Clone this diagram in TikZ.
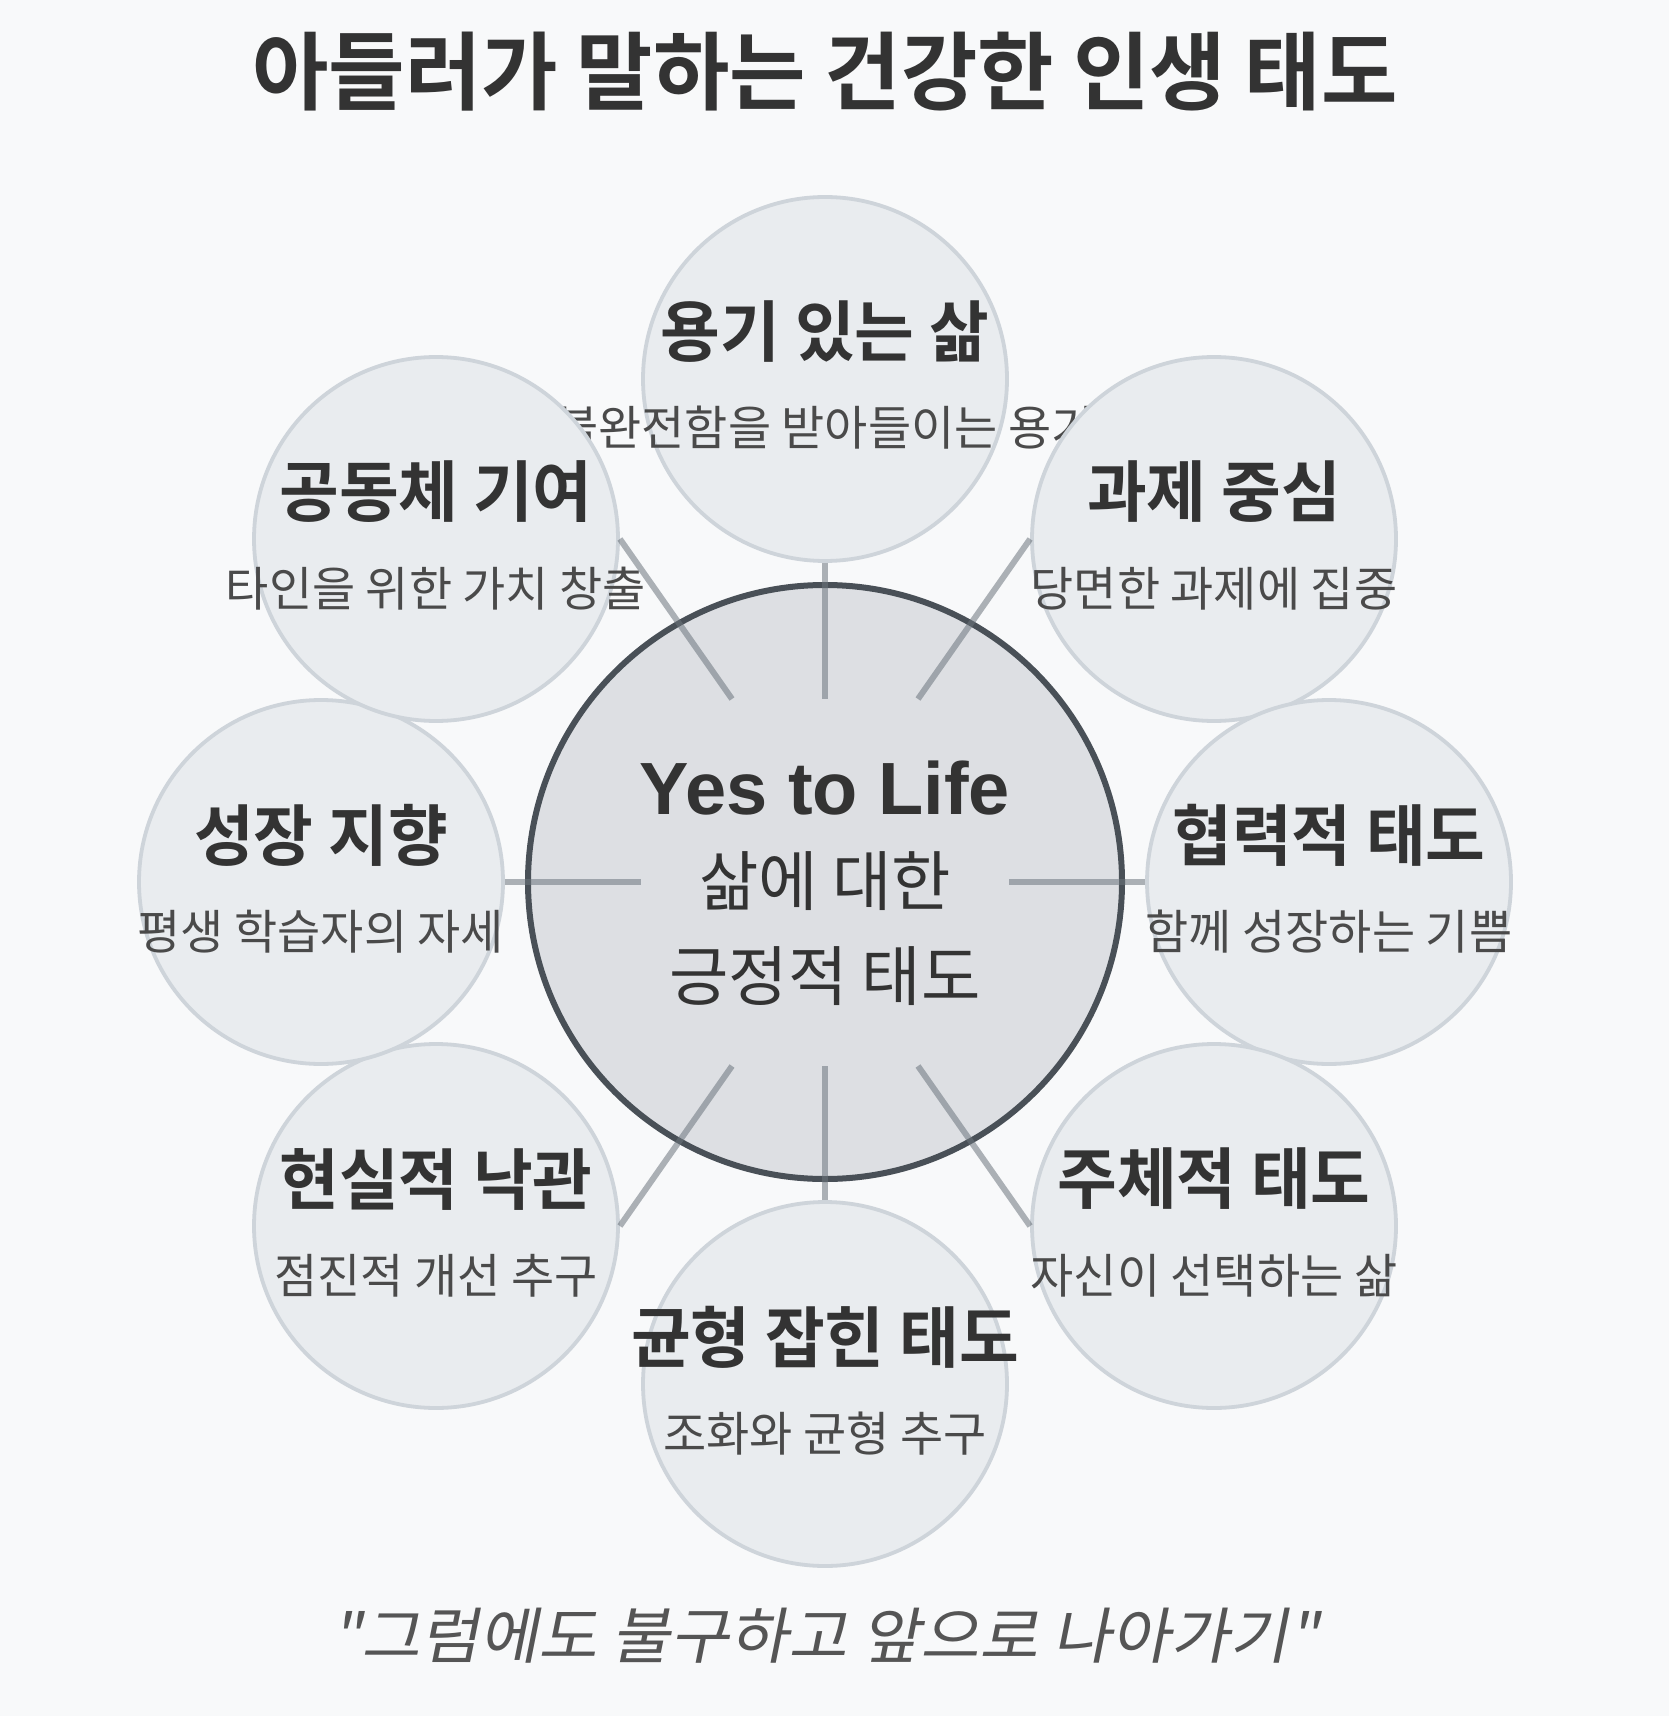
\documentclass[tikz,border=0pt]{standalone}
\usepackage{fontspec}
\setmainfont{Noto Sans CJK KR}
\newfontfamily\krreg{Noto Sans CJK KR}[FakeStretch=0.99]
\newfontfamily\krbold{Noto Sans CJK KR Bold}[FakeStretch=0.975]
\newfontfamily\krital{Noto Sans CJK KR}[FakeStretch=1.05,FakeSlant=0.2]
\newfontfamily\latbold{Liberation Sans Bold}
\definecolor{bgc}{HTML}{F8F9FA}
\definecolor{smfill}{HTML}{E9ECEF}
\definecolor{smline}{HTML}{CED4DA}
\definecolor{mainfill}{HTML}{DDDFE3}
\definecolor{mainline}{HTML}{495057}
\definecolor{spokec}{HTML}{6C757D}
\definecolor{txt}{HTML}{333333}
\definecolor{subtxt}{HTML}{4A4A4A}
\definecolor{quotetxt}{HTML}{555555}
\tikzset{
  scirc/.style={circle, draw=smline, fill=smfill, line width=1.9pt, minimum size=182pt, inner sep=0pt},
  bcirc/.style={circle, draw=mainline, fill=mainfill, line width=3pt, minimum size=297pt, inner sep=0pt},
  stitle/.style={text=txt, font=\krbold\fontsize{33.3}{40}\selectfont, inner sep=0pt},
  ssub/.style={text=subtxt, font=\krreg\fontsize{23.7}{28}\selectfont, inner sep=0pt},
  spokeline/.style={draw=spokec, line width=3pt, draw opacity=0.55},
}
\begin{document}
\begin{tikzpicture}[x=0.5pt,y=-0.5pt]
\fill[bgc] (0,0) rectangle (1669,1716);
\useasboundingbox (0,0) rectangle (1669,1716);

\node[text=txt, font=\krbold\fontsize{42.6}{50}\selectfont, inner sep=0pt] (title) at (825,72) {아들러가 말하는 건강한 인생 태도};

% small circles, clockwise from top
\node[scirc] (c1) at (825,379) {};
\node[stitle] (t1) at (825,332) {용기 있는 삶};
\node[ssub] (s1) at (825,428) {불완전함을 받아들이는 용기};

\node[scirc] (c2) at (1214,539) {};
\node[stitle] (t2) at (1214,492) {과제 중심};
\node[ssub] (s2) at (1214,589) {당면한 과제에 집중};

\node[scirc] (c3) at (1329,882) {};
\node[stitle] (t3) at (1329,835) {협력적 태도};
\node[ssub] (s3) at (1329,932) {함께 성장하는 기쁨};

\node[scirc] (c4) at (1214,1226) {};
\node[stitle] (t4) at (1214,1179) {주체적 태도};
\node[ssub] (s4) at (1214,1276) {자신이 선택하는 삶};

\node[scirc] (c5) at (825,1384) {};
\node[stitle] (t5) at (825,1337) {균형 잡힌 태도};
\node[ssub] (s5) at (825,1434) {조화와 균형 추구};

\node[scirc] (c6) at (436,1226) {};
\node[stitle] (t6) at (436,1179) {현실적 낙관};
\node[ssub] (s6) at (436,1276) {점진적 개선 추구};

\node[scirc] (c7) at (321,882) {};
\node[stitle] (t7) at (321,835) {성장 지향};
\node[ssub] (s7) at (321,932) {평생 학습자의 자세};

\node[scirc] (c8) at (436,539) {};
\node[stitle] (t8) at (436,492) {공동체 기여};
\node[ssub] (s8) at (436,589) {타인을 위한 가치 창출};

% main circle
\node[bcirc] (main) at (825,882) {};

% inner spoke ends
\coordinate (i1) at (825,699);
\coordinate (i2) at (918,699);
\coordinate (i3) at (1009,882);
\coordinate (i4) at (918,1066);
\coordinate (i5) at (825,1066);
\coordinate (i6) at (732,1066);
\coordinate (i7) at (641,882);
\coordinate (i8) at (732,699);

\draw[spokeline] (c1.south) -- (i1);
\draw[spokeline] (c2.west) -- (i2);
\draw[spokeline] (c3.west) -- (i3);
\draw[spokeline] (c4.west) -- (i4);
\draw[spokeline] (c5.north) -- (i5);
\draw[spokeline] (c6.east) -- (i6);
\draw[spokeline] (c7.east) -- (i7);
\draw[spokeline] (c8.east) -- (i8);

\node[text=txt, font=\latbold\fontsize{37}{44}\selectfont, inner sep=0pt] (yes) at (825,788) {Yes to Life};
\node[text=txt, font=\krreg\fontsize{32.6}{38}\selectfont, inner sep=0pt] (m1) at (825,881) {삶에 대한};
\node[text=txt, font=\krreg\fontsize{32.6}{38}\selectfont, inner sep=0pt] (m2) at (825,976) {긍정적 태도};

\node[text=quotetxt, font=\krital\fontsize{30.5}{36}\selectfont, inner sep=0pt] (quote) at (825,1636) {"그럼에도 불구하고 앞으로 나아가기"};
\end{tikzpicture}
\end{document}
